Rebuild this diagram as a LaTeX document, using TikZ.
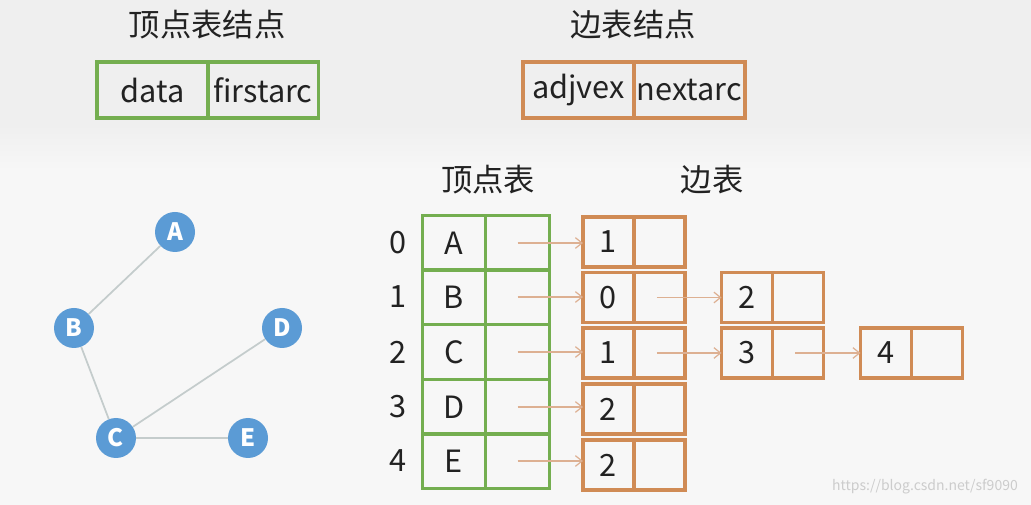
\documentclass[tikz,border=0pt]{standalone}
\usepackage{fontspec}
\setmainfont{Noto Sans CJK SC}
\usetikzlibrary{arrows.meta}
\definecolor{gbox}{HTML}{74AE50}
\definecolor{obox}{HTML}{D08B55}
\definecolor{arr}{HTML}{DDB092}
\definecolor{nodeblue}{HTML}{5B9BD5}
\definecolor{edgegray}{HTML}{C4CCCC}
\definecolor{bgtop}{HTML}{EFEFEF}
\definecolor{bgbot}{HTML}{F7F7F7}
\definecolor{txt}{HTML}{222222}
\begin{document}
\begin{tikzpicture}[x=0.75pt,y=-0.75pt,
  txtfont/.style={font=\fontsize{23}{27}\selectfont, text=txt},
  gcell/.style={draw=gbox, line width=2.3pt, minimum width=63.5*0.75pt, minimum height=54.4*0.75pt, inner sep=0pt, outer sep=0pt, txtfont},
  ocell/.style={draw=obox, line width=2.3pt, minimum width=51*0.75pt, minimum height=50*0.75pt, inner sep=0pt, outer sep=0pt, txtfont},
  hgcell/.style={draw=gbox, line width=2.3pt, minimum width=111*0.75pt, minimum height=56*0.75pt, inner sep=0pt, outer sep=0pt, txtfont},
  hocell/.style={draw=obox, line width=2.3pt, minimum width=111*0.75pt, minimum height=56*0.75pt, inner sep=0pt, outer sep=0pt, txtfont},
  title/.style={font=\fontsize{23.5}{28}\selectfont, text=txt},
  ptr/.style={draw=arr, line width=0.9pt, -{Straight Barb[length=5pt,width=8pt]}},
  vert/.style={circle, fill=nodeblue, minimum size=40*0.75pt, inner sep=0pt, text=white, font=\fontsize{18}{21}\selectfont\bfseries},
  gedge/.style={draw=edgegray, line width=1.3pt}
]
\useasboundingbox (0,0) rectangle (1031,505);
\fill[bgbot] (0,0) rectangle (1031,505);
\fill[bgtop] (0,0) rectangle (1031,125);
\shade[top color=bgtop, bottom color=bgbot] (0,124.5) rectangle (1031,170);

% headers
\node[title] (t1) at (207,25) {顶点表结点};
\node[title] (t2) at (633,25) {边表结点};
\node[hgcell] (hd) at (152.5,90) {data};
\node[hgcell] (hf) at (263,90) {firstarc};
\node[hocell] (ha) at (578.5,90) {adjvex};
\node[hocell] (hn) at (689.5,90) {nextarc};

\node[title] (t3) at (488,180) {顶点表};
\node[title] (t4) at (712,180) {边表};

% vertex table
\foreach \i/\l/\y in {0/A/243,1/B/297,2/C/352,3/D/407,4/E/461}{
  \node[txtfont] (n\i) at (398,\y) {\i};
  \node[gcell] (v\i a) at (454,\y) {\l};
  \node[gcell] (v\i b) at (517.5,\y) {};
}

% edge table first column
\foreach \i/\l/\y in {0/1/242,1/0/297.5,2/1/353,3/2/409,4/2/465}{
  \node[ocell] (e\i a) at (608.5,\y) {\l};
  \node[ocell] (e\i b) at (659.5,\y) {};
}
\node[ocell] (f1a) at (747,297.5) {2};
\node[ocell] (f1b) at (798,297.5) {};
\node[ocell] (f2a) at (747,353) {3};
\node[ocell] (f2b) at (798,353) {};
\node[ocell] (g2a) at (886,353) {4};
\node[ocell] (g2b) at (937,353) {};

% pointers
\foreach \i in {0,...,4}{
  \draw[ptr] (v\i b.center) -- (v\i b.center -| e\i a.west);
}
\draw[ptr] ([xshift=-2pt]e1b.center) -- (f1a.west);
\draw[ptr] ([xshift=-2pt]e2b.center) -- (f2a.west);
\draw[ptr] ([xshift=-2pt]f2b.center) -- (g2a.west);

% graph
\node[vert] (A) at (175,232) {A};
\node[vert] (B) at (74,328) {B};
\node[vert] (C) at (116,438) {C};
\node[vert] (D) at (282,328) {D};
\node[vert] (E) at (248,438) {E};
\draw[gedge] (A) -- (B);
\draw[gedge] (B) -- (C);
\draw[gedge] (C) -- (D);
\draw[gedge] (C) -- (E);

% watermark
\node[font=\fontsize{10.5}{12}\selectfont, text=gray!40] (wm) at (925,487) {https://blog.csdn.net/sf9090};
\end{tikzpicture}
\end{document}
